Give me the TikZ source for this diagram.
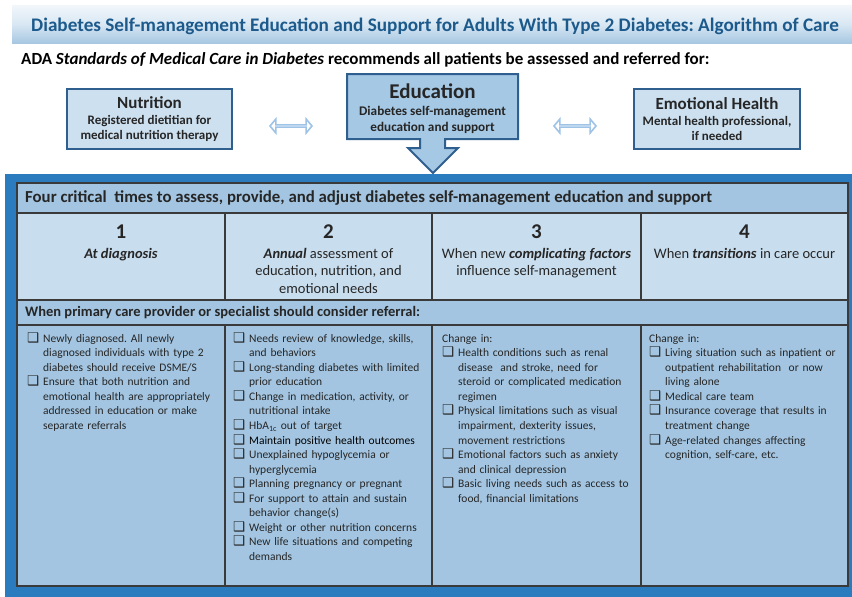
\documentclass[tikz,border=0pt]{standalone}
\usepackage{fontspec}
\setmainfont{Carlito}
\newfontfamily\djv{DejaVu Sans}
\usetikzlibrary{shapes.arrows}
\definecolor{titleblue}{HTML}{1D5A8C}
\definecolor{framblue}{HTML}{2B7BBF}
\definecolor{midfill}{HTML}{A3C5E1}
\definecolor{lightfill}{HTML}{C8DDEE}
\definecolor{boxfill}{HTML}{CCE0F0}
\definecolor{edufill}{HTML}{A5C8E4}
\definecolor{boxborder}{HTML}{2F5F8F}
\definecolor{gridline}{HTML}{3A3A3A}
\definecolor{txt}{HTML}{262626}
\definecolor{dblarrow}{HTML}{9DC3E6}
\newcommand\cbx{\smash{\djv\fontsize{13.5}{13.5}\selectfont\color{black!85}❑}}
\newcommand\itmz[1]{\hangindent=16pt\hangafter=1\noindent\makebox[16pt][l]{\cbx}#1}
\newcommand\itm[1]{\par\itmz{#1}}
\newcommand\br{\hfil\break}
\frenchspacing
\begin{document}
\begin{tikzpicture}[x=1pt,y=-1pt,
  topbox/.style={draw=boxborder,line width=2pt,fill=boxfill,align=center,text=txt,inner sep=0pt,font=\bfseries\fontsize{13}{15}\selectfont},
  cellbox/.style={draw=gridline,line width=1.1pt,inner sep=0pt},
  hdrfill/.style={cellbox,fill=midfill},
  numfill/.style={cellbox,fill=lightfill},
  numtxt/.style={font=\bfseries\fontsize{21}{24}\selectfont,text=txt},
  desctxt/.style={font=\fontsize{14.5}{17.6}\selectfont,text=txt,align=center,anchor=north,inner sep=0pt},
  listtxt/.style={font=\fontsize{11.5}{14.55}\selectfont,text=txt,text width=205pt,anchor=north west,inner sep=0pt},
  dblarr/.style={double arrow,draw=dblarrow,fill=white,line width=1.6pt,inner sep=0pt,minimum width=14pt,minimum height=42pt,double arrow head extend=4pt,double arrow tip angle=100}
]
\useasboundingbox (0,0) rectangle (852,597);
% title bar
\path[top color=white!75!lightfill,bottom color=midfill!90!lightfill,middle color=white!30!lightfill] (12,5) rectangle (852,43);
\node[font=\bfseries\fontsize{19.2}{22}\selectfont,text=titleblue] (title) at (435,26) {Diabetes Self-management Education and Support for Adults With Type 2 Diabetes: Algorithm of Care};
\node[anchor=west,font=\bfseries\fontsize{17}{20}\selectfont,text=black,inner sep=0pt] (sub) at (21,60) {ADA \textit{Standards of Medical Care in Diabetes} recommends all patients be assessed and referred for:};
% top boxes
\node[topbox,minimum width=165pt,minimum height=60pt] (nutr) at (149.5,119)
  {{\fontsize{17}{19}\selectfont Nutrition}\\[1pt] Registered dietitian for\\ medical nutrition therapy};
\node[topbox,minimum width=166pt,minimum height=60pt] (emo) at (717,119)
  {{\fontsize{17}{19}\selectfont Emotional Health}\\[1pt] Mental health professional,\\ if needed};
\draw[draw=boxborder,line width=2pt,fill=edufill,line join=miter]
  (347,74) -- (518,74) -- (518,139) -- (445,139) -- (445,148) -- (458,148) -- (433,173)
  -- (408,148) -- (420,148) -- (420,139) -- (347,139) -- cycle;
\node[align=center,text=txt,inner sep=0pt,font=\bfseries\fontsize{13.2}{16}\selectfont] (edu) at (432.5,109)
  {{\fontsize{21}{23}\selectfont Education}\\[1pt] Diabetes self-management\\ education and support};
\node[dblarr] (da1) at (291,126) {};
\node[dblarr] (da2) at (575,126) {};
% frame
\fill[framblue] (5,174) rectangle (852,597);
% table
\node[hdrfill,minimum width=831pt,minimum height=30pt] (hdr) at (432.5,198) {};
\node[numfill,minimum width=208pt,minimum height=87pt] (n1) at (121,256.5) {};
\node[numfill,minimum width=207pt,minimum height=87pt] (n2) at (328.5,256.5) {};
\node[numfill,minimum width=209pt,minimum height=87pt] (n3) at (536.5,256.5) {};
\node[numfill,minimum width=207pt,minimum height=87pt] (n4) at (744.5,256.5) {};
\node[hdrfill,minimum width=831pt,minimum height=25pt] (ref) at (432.5,312.5) {};
\node[hdrfill,minimum width=208pt,minimum height=261pt] (d1) at (121,455.5) {};
\node[hdrfill,minimum width=207pt,minimum height=261pt] (d2) at (328.5,455.5) {};
\node[hdrfill,minimum width=209pt,minimum height=261pt] (d3) at (536.5,455.5) {};
\node[hdrfill,minimum width=207pt,minimum height=261pt] (d4) at (744.5,455.5) {};
% header texts
\node[anchor=west,font=\bfseries\fontsize{16.8}{19}\selectfont,text=txt,inner sep=0pt] (hdrt) at (25,198) {Four critical\ \ times to assess, provide, and adjust diabetes self-management education and support};
\node[numtxt] (t1) at (121,232) {1};
\node[numtxt] (t2) at (328.5,232) {2};
\node[numtxt] (t3) at (536.5,232) {3};
\node[numtxt] (t4) at (744.5,232) {4};
\node[desctxt] (s1) at (121,248) {\textbf{\textit{At diagnosis}}};
\node[desctxt] (s2) at (328.5,248) {\textbf{\textit{Annual}} assessment of\\ education, nutrition, and\\ emotional needs};
\node[desctxt] (s3) at (536.5,248) {When new \textbf{\textit{complicating factors}}\\ influence self-management};
\node[desctxt] (s4) at (744.5,248) {When \textbf{\textit{transitions}} in care occur};
\node[anchor=west,font=\bfseries\fontsize{14.5}{17}\selectfont,text=txt,inner sep=0pt] (reft) at (25,313) {When primary care provider or specialist should consider referral:};
% lists
\node[listtxt] (l1) at (27,334) {\raggedright
\itmz{Newly diagnosed. All newly\br diagnosed individuals with type 2\br diabetes should receive DSME/S}
\itm{Ensure that both nutrition and\br emotional health are appropriately\br addressed in education or make\br separate referrals}\par};
\node[listtxt] (l2) at (233,334) {\raggedright
\itmz{Needs review of knowledge, skills,\br and behaviors}
\itm{Long-standing diabetes with limited\br prior education}
\itm{Change in medication, activity, or\br nutritional intake}
\itm{HbA\textsubscript{1c} out of target}
\itm{\textcolor{black}{Maintain positive health outcomes}}
\itm{Unexplained hypoglycemia or\br hyperglycemia}
\itm{Planning pregnancy or pregnant}
\itm{For support to attain and sustain\br behavior change(s)}
\itm{Weight or other nutrition concerns}
\itm{New life situations and competing\br demands}\par};
\node[listtxt] (l3) at (442,334) {\raggedright
\noindent Change in:
\itm{Health conditions such as renal\br disease\ \ and stroke, need for\br steroid or complicated medication\br regimen}
\itm{Physical limitations such as visual\br impairment, dexterity issues,\br movement restrictions}
\itm{Emotional factors such as anxiety\br and clinical depression}
\itm{Basic living needs such as access to\br food, financial limitations}\par};
\node[listtxt] (l4) at (649,334) {\raggedright
\noindent Change in:
\itm{Living situation such as inpatient or\br outpatient rehabilitation\ \ or now\br living alone}
\itm{Medical care team}
\itm{Insurance coverage that results in\br treatment change}
\itm{Age-related changes affecting\br cognition, self-care, etc.}\par};
\end{tikzpicture}
\end{document}
